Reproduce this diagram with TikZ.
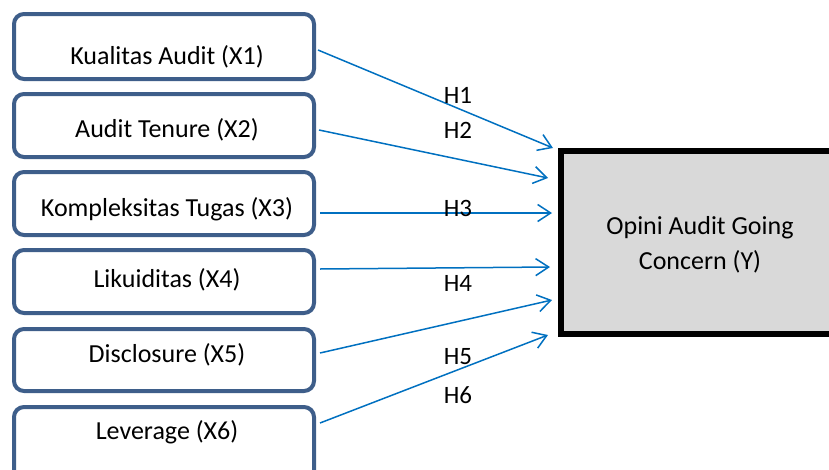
\documentclass[tikz,border=0pt]{standalone}
\usepackage{fontspec}
\setmainfont{Carlito}
\usetikzlibrary{arrows.meta}
\definecolor{boxblue}{RGB}{62,94,138}
\definecolor{arrblue}{RGB}{0,112,192}
\definecolor{boxgray}{RGB}{217,217,217}
\tikzset{
  varbox/.style={draw=boxblue, line width=4pt, rounded corners=10pt, minimum width=300pt, inner sep=0pt},
  vartext/.style={font=\fontsize{26}{31}\selectfont, inner sep=0pt},
  hlabel/.style={font=\fontsize{25}{30}\selectfont, inner sep=0pt},
  conn/.style={draw=arrblue, line width=1.5pt, -{Straight Barb[length=13pt,width=17pt,line width=1.5pt]}},
}
\begin{document}
\begin{tikzpicture}[x=1pt,y=-1pt]
\useasboundingbox (0,0) rectangle (829,469);
\clip (0,0) rectangle (829,469);
% left boxes
\node[varbox, minimum height=65pt] (b1) at (164,46.5) {};
\node[varbox, minimum height=63pt] (b2) at (164,125.5) {};
\node[varbox, minimum height=63pt] (b3) at (164,203.5) {};
\node[varbox, minimum height=63pt] (b4) at (164,281.5) {};
\node[varbox, minimum height=62pt] (b5) at (164,360) {};
\node[varbox, minimum height=80pt] (b6) at (164,447) {};
\node[vartext] (t1) at (167,57) {Kualitas Audit (X1)};
\node[vartext] (t2) at (167,130) {Audit Tenure (X2)};
\node[vartext] (t3) at (167,209) {Kompleksitas Tugas (X3)};
\node[vartext] (t4) at (167,280) {Likuiditas (X4)};
\node[vartext] (t5) at (167,355) {Disclosure (X5)};
\node[vartext] (t6) at (167,432) {Leverage (X6)};
% right box (its right side runs past the page edge)
\node[draw=black, fill=boxgray, line width=6pt, minimum width=300pt, minimum height=183pt, inner sep=0pt] (y) at (711,242.5) {};
\node[vartext, align=center, font=\fontsize{26}{35}\selectfont] (yt) at (700,244.5) {Opini Audit Going\\Concern (Y)};
% connectors
\draw[conn] ([xshift=2pt,yshift=-3.5pt]b1.east) -- ([xshift=-5pt,yshift=94.5pt]y.west);
\draw[conn] ([xshift=3pt,yshift=-4.5pt]b2.east) -- ([xshift=-10pt,yshift=64.5pt]y.west);
\draw[conn] ([xshift=4pt,yshift=-9.5pt]b3.east) -- ([xshift=-6pt,yshift=29.5pt]y.west);
\draw[conn] ([xshift=4pt,yshift=12.5pt]b4.east) -- ([xshift=-8pt,yshift=-24.5pt]y.west);
\draw[conn] ([xshift=4pt,yshift=7pt]b5.east) -- ([xshift=-6pt,yshift=-57.5pt]y.west);
\draw[conn] ([xshift=4pt,yshift=24pt]b6.east) -- ([xshift=-10pt,yshift=-92.5pt]y.west);
% labels
\node[hlabel] (h1) at (458,95) {H1};
\node[hlabel] (h2) at (458,130) {H2};
\node[hlabel] (h3) at (458,208) {H3};
\node[hlabel] (h4) at (458,283) {H4};
\node[hlabel] (h5) at (458,357) {H5};
\node[hlabel] (h6) at (458,395) {H6};
\end{tikzpicture}
\end{document}
